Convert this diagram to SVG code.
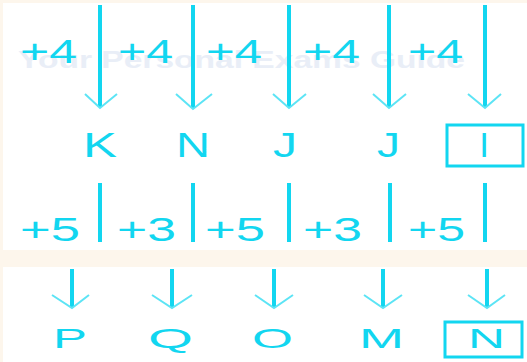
<svg xmlns="http://www.w3.org/2000/svg" width="527" height="362" viewBox="0 0 527 362">
<style>
.t{font-family:"Liberation Sans",Arial,sans-serif;fill:#12d6f0;}
.wm{font-family:"Liberation Sans",Arial,sans-serif;font-weight:bold;fill:#e9eef7;font-size:24px;}
.shaft{stroke:#12d6f0;stroke-width:4;fill:none;}
.head{stroke:#5ce4f5;stroke-width:2;fill:none;}
.box{stroke:#12d6f0;stroke-width:3;fill:none;}
</style>
<rect x="0" y="0" width="527" height="362" fill="#ffffff"/>
<rect x="0" y="0" width="527" height="3" fill="#fdf6ec"/>
<rect x="0" y="0" width="3" height="362" fill="#fdf6ec"/>
<rect x="0" y="250" width="527" height="17" fill="#fdf6ec"/>
<text class="wm" x="18" y="68" textLength="447" lengthAdjust="spacingAndGlyphs">Your Personal Exams Guide</text>
<g id="connectors">
<g id="row1-arrows">
<line class="shaft" x1="100" y1="5" x2="100" y2="107"/><polyline class="head" points="85,94 100,108 117,94"/>
<line class="shaft" x1="193" y1="5" x2="193" y2="108"/><polyline class="head" points="176,94 193,109 212,94"/>
<line class="shaft" x1="289" y1="5" x2="289" y2="107"/><polyline class="head" points="273,94 289,108 306,94"/>
<line class="shaft" x1="389" y1="5" x2="389" y2="107"/><polyline class="head" points="373,94 389,108 406,94"/>
<line class="shaft" x1="485" y1="5" x2="485" y2="107"/><polyline class="head" points="468,94 485,108 501,94"/>
</g>
<g id="row2-bars">
<line class="shaft" x1="100" y1="183" x2="100" y2="242"/>
<line class="shaft" x1="193" y1="183" x2="193" y2="242"/>
<line class="shaft" x1="289" y1="183" x2="289" y2="242"/>
<line class="shaft" x1="390" y1="183" x2="390" y2="242"/>
<line class="shaft" x1="485" y1="183" x2="485" y2="242"/>
</g>
<g id="row3-arrows">
<line class="shaft" x1="72" y1="269" x2="72" y2="307"/><polyline class="head" points="52,295 72,308 89,295"/>
<line class="shaft" x1="172" y1="269" x2="172" y2="307"/><polyline class="head" points="152,295 172,308 192,295"/>
<line class="shaft" x1="274" y1="269" x2="274" y2="307"/><polyline class="head" points="255,295 274,308 293,295"/>
<line class="shaft" x1="383" y1="269" x2="383" y2="307"/><polyline class="head" points="364,295 383,308 402,295"/>
<line class="shaft" x1="487" y1="269" x2="487" y2="307"/><polyline class="head" points="468,295 487,308 505,295"/>
</g>
</g>
<g id="plus-top">
<text class="t" x="20" y="63" font-size="33" textLength="57" lengthAdjust="spacingAndGlyphs">+4</text>
<text class="t" x="118" y="63" font-size="33" textLength="55" lengthAdjust="spacingAndGlyphs">+4</text>
<text class="t" x="206" y="63" font-size="33" textLength="56" lengthAdjust="spacingAndGlyphs">+4</text>
<text class="t" x="303" y="63" font-size="33" textLength="57" lengthAdjust="spacingAndGlyphs">+4</text>
<text class="t" x="408" y="63" font-size="33" textLength="55" lengthAdjust="spacingAndGlyphs">+4</text>
</g>
<g id="letters-mid">
<text class="t" x="83" y="157" font-size="35" textLength="34" lengthAdjust="spacingAndGlyphs">K</text>
<text class="t" x="176" y="157" font-size="35" textLength="34" lengthAdjust="spacingAndGlyphs">N</text>
<text class="t" x="273" y="157" font-size="35" textLength="24" lengthAdjust="spacingAndGlyphs">J</text>
<text class="t" x="377" y="157" font-size="35" textLength="23" lengthAdjust="spacingAndGlyphs">J</text>
<g id="answer-I">
<rect class="box" x="447" y="125" width="76" height="41"/>
<text class="t" x="484" y="157" font-size="35" text-anchor="middle">I</text>
</g>
</g>
<g id="plus-mid">
<text class="t" x="20" y="241" font-size="34" textLength="60" lengthAdjust="spacingAndGlyphs">+5</text>
<text class="t" x="117" y="241" font-size="34" textLength="59" lengthAdjust="spacingAndGlyphs">+3</text>
<text class="t" x="205" y="241" font-size="34" textLength="60" lengthAdjust="spacingAndGlyphs">+5</text>
<text class="t" x="303" y="241" font-size="34" textLength="59" lengthAdjust="spacingAndGlyphs">+3</text>
<text class="t" x="408" y="241" font-size="34" textLength="57" lengthAdjust="spacingAndGlyphs">+5</text>
</g>
<g id="letters-bottom">
<text class="t" x="53" y="348" font-size="28" textLength="34" lengthAdjust="spacingAndGlyphs">P</text>
<text class="t" x="148" y="348" font-size="28" textLength="45" lengthAdjust="spacingAndGlyphs">Q</text>
<text class="t" x="252" y="348" font-size="28" textLength="41" lengthAdjust="spacingAndGlyphs">O</text>
<text class="t" x="359" y="348" font-size="28" textLength="45" lengthAdjust="spacingAndGlyphs">M</text>
<g id="answer-N">
<rect class="box" x="445" y="322" width="77" height="35"/>
<text class="t" x="468" y="348" font-size="28" textLength="37" lengthAdjust="spacingAndGlyphs">N</text>
</g>
</g>
</svg>
